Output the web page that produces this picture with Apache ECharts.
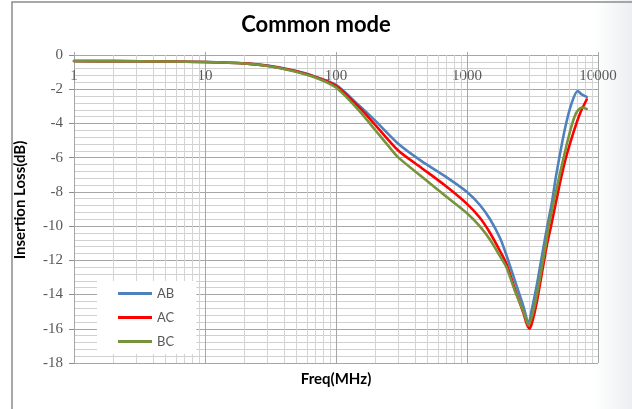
<!DOCTYPE html>
<html>
<head>
<meta charset="utf-8">
<script src="https://cdn.jsdelivr.net/npm/echarts@6/dist/echarts.min.js"></script>
<style>
html,body{margin:0;padding:0;background:#fff;}
#chart{width:632px;height:409px;}
</style>
</head>
<body>
<div id="chart"></div>
<script>
// ---- data ----
const seriesNames = ['AB', 'AC', 'BC'];
const xTickLabels = [1, 10, 100, 1000, 10000];
const yTickLabels = [0, -2, -4, -6, -8, -10, -12, -14, -16, -18];

const abFreq = [1, 2, 5, 10, 20, 30, 45, 67, 100, 150, 200, 300, 450, 700, 1000, 1250, 1500, 1800, 2000, 2300, 2700, 2950, 3100, 3400, 3700, 4100, 4450, 4800, 5600, 6300, 7000, 7500, 8200];
const abLoss = [-0.35, -0.36, -0.38, -0.41, -0.49, -0.62, -0.87, -1.22, -1.75, -2.95, -3.85, -5.2, -6.2, -7.15, -8.0, -8.75, -9.6, -10.75, -11.7, -13.1, -14.7, -15.7, -15.0, -13.5, -11.9, -10.0, -8.6, -7.0, -4.3, -2.8, -2.1, -2.3, -2.45];

const acFreq = [1, 2, 5, 10, 20, 30, 45, 67, 100, 150, 200, 300, 450, 700, 1000, 1250, 1500, 1800, 2000, 2300, 2700, 2850, 3000, 3150, 3400, 4050, 4380, 5120, 5650, 6450, 7300, 8200];
const acLoss = [-0.35, -0.36, -0.38, -0.41, -0.49, -0.63, -0.88, -1.24, -1.8, -3.05, -4.1, -5.6, -6.6, -7.7, -8.7, -9.5, -10.4, -11.5, -12.2, -13.6, -15.1, -15.7, -16.0, -15.6, -14.5, -11.2, -10.0, -7.5, -6.1, -4.6, -3.4, -2.6];

const bcFreq = [1, 2, 5, 10, 20, 30, 45, 67, 100, 150, 200, 250, 300, 450, 700, 1000, 1250, 1500, 1800, 2000, 2300, 2700, 2950, 3150, 3400, 4050, 4200, 5100, 6100, 6800, 7500, 8200];
const bcLoss = [-0.35, -0.36, -0.38, -0.41, -0.5, -0.64, -0.9, -1.27, -1.9, -3.25, -4.4, -5.3, -6.0, -7.1, -8.3, -9.25, -10.0, -10.8, -11.8, -12.4, -13.7, -15.0, -15.8, -15.2, -14.1, -10.8, -10.0, -7.0, -4.5, -3.4, -3.07, -3.15];

// ---- helpers ----
function zip(xs, ys) { return xs.map((x, i) => [x, ys[i]]); }
const minorFreqs = [];
[1, 10, 100, 1000].forEach(d => { for (let k = 2; k <= 9; k++) minorFreqs.push(d * k); });

const colors = ['#4F81BD', '#FF0000', '#77933C'];
const serif = '"Liberation Serif", "DejaVu Serif", serif';
const sans = 'Lato, "Open Sans", "Liberation Sans", sans-serif';

const chart = echarts.init(document.getElementById('chart'), null, { renderer: 'canvas' });

const lineSeries = [zip(abFreq, abLoss), zip(acFreq, acLoss), zip(bcFreq, bcLoss)].map((d, i) => ({
  name: seriesNames[i],
  type: 'line',
  data: d,
  showSymbol: false,
  symbol: 'none',
  smooth: 0.25,
  z: 3,
  lineStyle: { color: colors[i], width: 2.6, join: 'round', cap: 'round' },
  itemStyle: { color: colors[i] }
}));

// minor vertical grid lines (log minor ticks) as mark lines on a helper series
lineSeries.push({
  name: 'grid',
  type: 'line',
  data: [],
  silent: true,
  z: 1,
  markLine: {
    silent: true,
    symbol: 'none',
    z: 1,
    animation: false,
    label: { show: false },
    lineStyle: { color: '#d4d4d4', type: 'solid', width: 1 },
    data: minorFreqs.map(v => ({ xAxis: v }))
  }
});

chart.setOption({
  animation: false,
  backgroundColor: {
    type: 'linear', x: 0, y: 0, x2: 1, y2: 0,
    colorStops: [
      { offset: 0, color: '#ffffff' },
      { offset: 0.94, color: '#ffffff' },
      { offset: 1, color: '#eceef1' }
    ]
  },
  graphic: [{
    type: 'rect',
    shape: { x: 12, y: 2, width: 700, height: 500 },
    style: { fill: 'none', stroke: '#8c8c8c', lineWidth: 1.5 },
    silent: true
  }],
  title: [{
    text: 'Common mode',
    left: 'center',
    top: 14,
    padding: 0,
    textStyle: { fontFamily: sans, fontWeight: 'bold', fontSize: 22, color: '#000' }
  }, {
    text: 'Freq(MHz)',
    left: 336,
    textAlign: 'center',
    top: 372,
    padding: 0,
    textStyle: { fontFamily: sans, fontWeight: 'bold', fontSize: 15, color: '#000' }
  }],
  legend: {
    data: seriesNames,
    orient: 'vertical',
    left: 97,
    top: 281,
    icon: 'rect',
    itemWidth: 34,
    itemHeight: 3,
    itemGap: 9,
    backgroundColor: '#ffffff',
    padding: [5, 22, 5, 21],
    textStyle: { fontFamily: sans, fontSize: 13, color: '#595959', lineHeight: 15, padding: [0, 0, 0, 0] }
  },
  grid: { left: 74, right: 34, top: 55, bottom: 46, containLabel: false },
  xAxis: {
    type: 'log',
    logBase: 10,
    min: xTickLabels[0],
    max: xTickLabels[xTickLabels.length - 1],
    position: 'top',
    axisLine: { show: true, onZero: false, lineStyle: { color: '#a6a6a6', width: 1 } },
    axisTick: { show: true, length: 3, lineStyle: { color: '#a6a6a6' } },
    axisLabel: {
      inside: true,
      margin: 14,
      fontFamily: serif,
      fontSize: 15,
      color: '#595959',
      formatter: v => String(Math.round(v))
    },
    splitLine: { show: true, lineStyle: { color: '#a6a6a6', width: 1 } }
  },
  yAxis: {
    type: 'value',
    min: yTickLabels[yTickLabels.length - 1],
    max: yTickLabels[0],
    interval: 2,
    name: 'Insertion Loss(dB)',
    nameLocation: 'middle',
    nameGap: 46,
    nameTextStyle: { fontFamily: sans, fontWeight: 'bold', fontSize: 15, color: '#000', padding: [0, 0, 0, 18] },
    axisLine: { show: true, lineStyle: { color: '#a6a6a6' } },
    axisTick: { show: true, length: 5, lineStyle: { color: '#8c8c8c' } },
    axisLabel: { margin: 11, fontFamily: serif, fontSize: 15, color: '#595959' },
    splitLine: { show: true, lineStyle: { color: '#a6a6a6', width: 1 } },
    minorTick: { show: false, splitNumber: 5 },
    minorSplitLine: { show: true, lineStyle: { color: '#d0d0d0', width: 1 } }
  },
  series: lineSeries
});
</script>
</body>
</html>
